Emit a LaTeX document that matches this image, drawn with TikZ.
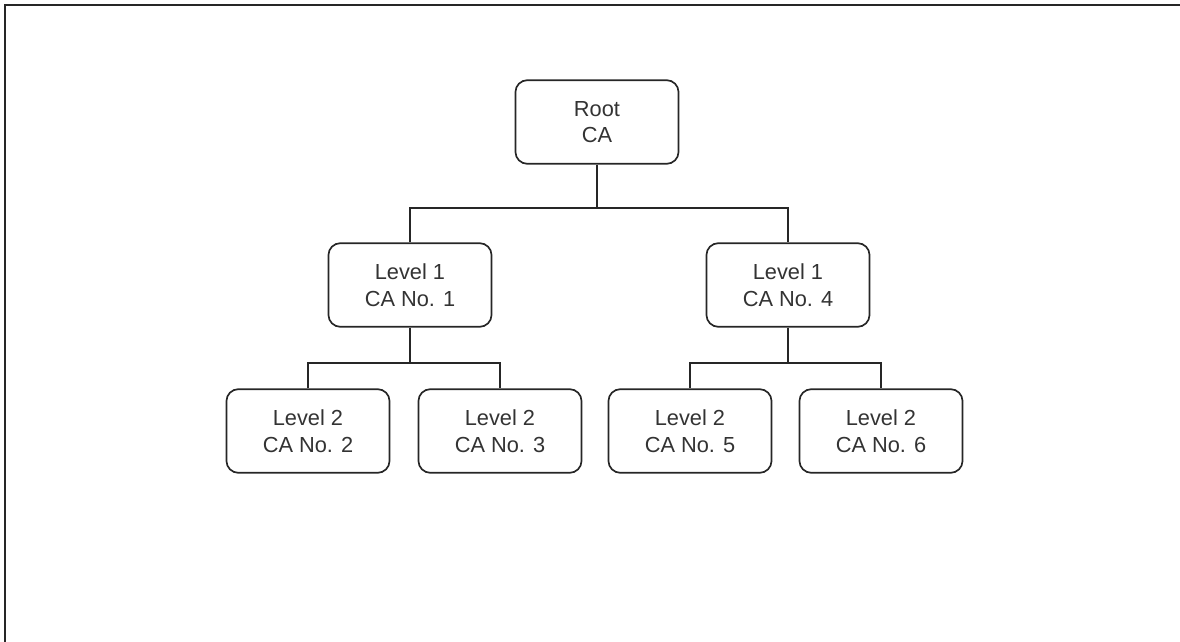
\documentclass[tikz,border=0pt]{standalone}
\usepackage{fontspec}
\setmainfont{Liberation Sans}
\begin{document}
\begin{tikzpicture}[x=0.025cm, y=-0.025cm, line width=1.2pt,
    cabox/.style={draw=black!85, rounded corners=8.5pt, minimum width=116pt,
        minimum height=59.5pt, align=center, text=black!80,
        font=\fontsize{15.5}{19}\selectfont}]
    \useasboundingbox (0,0) rectangle (1180,642);
    \draw[line width=1.5pt, black!85] (5,642) -- (5,5) -- (1180,5);
    % root and first level
    \node[cabox] (root) at (597,122) {Root\\CA};
    \node[cabox] (ca1) at (410,285) {Level 1\\CA No. 1};
    \node[cabox] (ca4) at (788,285) {Level 1\\CA No. 4};
    % second level
    \node[cabox] (ca2) at (308,431) {Level 2\\CA No. 2};
    \node[cabox] (ca3) at (500,431) {Level 2\\CA No. 3};
    \node[cabox] (ca5) at (690,431) {Level 2\\CA No. 5};
    \node[cabox] (ca6) at (881,431) {Level 2\\CA No. 6};
    % connectors
    \coordinate (bar0) at (597,208);
    \coordinate (bar1) at (410,363);
    \coordinate (bar4) at (788,363);
    \draw[black!85] (root.south) -- (bar0);
    \draw[black!85] (ca1.north) |- (bar0) -| (ca4.north);
    \draw[black!85] (ca1.south) -- (bar1);
    \draw[black!85] (ca2.north) |- (bar1) -| (ca3.north);
    \draw[black!85] (ca4.south) -- (bar4);
    \draw[black!85] (ca5.north) |- (bar4) -| (ca6.north);
\end{tikzpicture}
\end{document}
